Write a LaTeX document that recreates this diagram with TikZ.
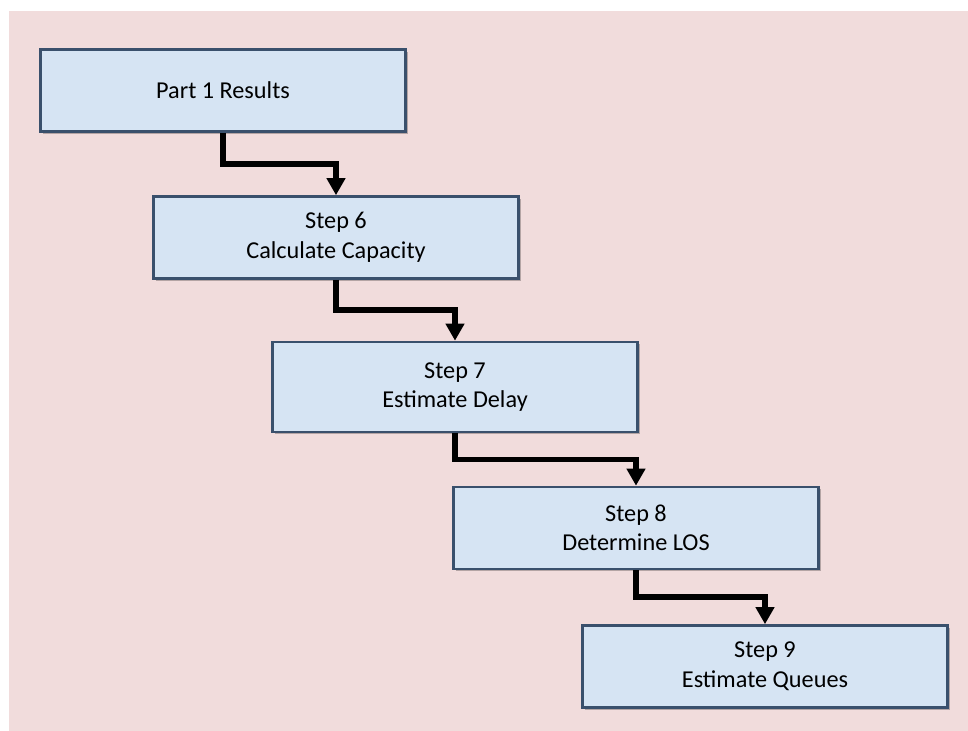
\documentclass[tikz,border=0pt]{standalone}
\usepackage{fontspec}
\setmainfont{Carlito}
\usetikzlibrary{arrows.meta,calc}
\definecolor{pagepink}{RGB}{241,220,220}
\definecolor{boxfill}{RGB}{214,228,243}
\definecolor{boxline}{RGB}{58,80,108}
\begin{document}
\begin{tikzpicture}[stepbox/.style={rectangle,draw=boxline,fill=boxfill,line width=1.5pt,minimum width=7.3cm,minimum height=1.64cm,inner sep=2pt,align=center,font=\fontsize{13.8}{16.8}\selectfont,preaction={fill=black,opacity=0.25,transform canvas={xshift=1.3pt,yshift=-1.3pt}}},
    flow/.style={line width=3.4pt,-{Triangle[length=0.34cm,width=0.36cm]}}]
        \useasboundingbox (0,0) rectangle (19.36,-14.62);
        \fill[white] (0,0) rectangle (19.36,-14.62);
        \fill[pagepink] (0.18,-0.22) rectangle (19.36,-14.62);

        \node[stepbox] (p1) at (4.46,-1.81) {Part 1 Results};
        \node[stepbox] (s6) at (6.72,-4.75) {Step 6\\Calculate Capacity};
        \node[stepbox,minimum height=1.8cm] (s7) at (9.10,-7.74) {Step 7\\Estimate Delay};
        \node[stepbox] (s8) at (12.72,-10.56) {Step 8\\Determine LOS};
        \node[stepbox] (s9) at (15.30,-13.33) {Step 9\\Estimate Queues};

        \draw[flow] (p1.south) |- ($(p1.south)!0.5!(s6.north)$) -| (s6.north);
        \draw[flow] (s6.south) |- ($(s6.south)!0.5!(s7.north)$) -| (s7.north);
        \draw[flow] (s7.south) |- ($(s7.south)!0.5!(s8.north)$) -| (s8.north);
        \draw[flow] (s8.south) |- ($(s8.south)!0.5!(s9.north)$) -| (s9.north);
    \end{tikzpicture}
\end{document}
